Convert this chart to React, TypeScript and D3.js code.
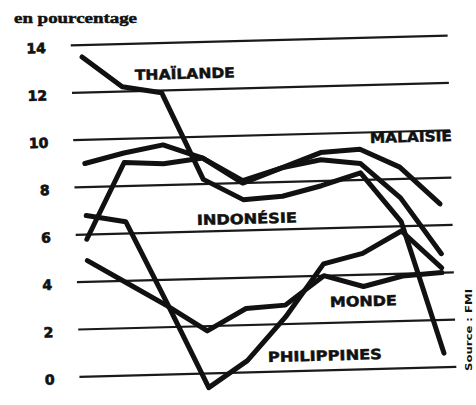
import React, { useEffect, useRef } from 'react'
import * as d3 from 'd3'

// growth of GDP
const years = ['1988', '1989', '1990', '1991', '1992', '1993', '1994', '1995', '1996', '1997']
const thailande = [13.5, 12.2, 11.9, 8.2, 7.3, 7.4, 7.8, 8.3, 6.2, 0.6]
const malaisie = [9.0, 9.4, 9.7, 9.1, 8.1, 8.6, 9.2, 9.3, 8.5, 6.9]
const indonesie = [5.8, 9.0, 8.9, 9.1, 8.0, 8.6, 8.9, 8.7, 7.2, 4.8]
const philippines = [6.8, 6.5, 3.0, -0.6, 0.5, 2.3, 4.5, 4.9, 5.8, 4.2]
const monde = [4.9, 3.9, 2.9, 1.8, 2.7, 2.8, 4.0, 3.5, 3.9, 4.0]
const yTicks = [0, 2, 4, 6, 8, 10, 12, 14]

const seriesList = [thailande, malaisie, indonesie, philippines, monde]

// label placement (screen coords of baseline start) and widths
const labels = [
  { text: 'THAÏLANDE', x: 135, y: 80, w: 100 },
  { text: 'MALAISIE', x: 370, y: 143, w: 82 },
  { text: 'INDONÉSIE', x: 197, y: 225, w: 100 },
  { text: 'MONDE', x: 330, y: 307, w: 67 },
  { text: 'PHILIPPINES', x: 268, y: 362, w: 114 },
]

const W = 476
const H = 405
const tilt = -1.5

export default function App() {
  const ref = useRef<SVGSVGElement>(null)

  useEffect(() => {
    draw()
  }, [])

  const draw = () => {
    const svg = d3.select(ref.current)
    svg.selectAll('*').remove()

    const x = d3.scalePoint().domain(years).range([86, 440])
    const y = d3.scaleLinear().domain([0, 14]).range([372, 40.5])

    svg.append('rect').attr('width', W).attr('height', H).attr('fill', '#fff')

    svg
      .append('text')
      .attr('x', 14)
      .attr('y', 23)
      .attr('font-family', '"Liberation Serif", serif')
      .attr('font-weight', 'bold')
      .attr('font-size', 15)
      .attr('textLength', 123)
      .attr('lengthAdjust', 'spacingAndGlyphs')
      .attr('fill', '#111')
      .attr('stroke', '#111')
      .attr('stroke-width', 0.5)
      .text('en pourcentage')

    // the scan is slightly rotated
    const g = svg.append('g').attr('transform', `rotate(${tilt}, 262, 205)`)

    g.append('g')
      .selectAll('line')
      .data(yTicks)
      .join('line')
      .attr('x1', 75)
      .attr('x2', 452)
      .attr('y1', (d) => y(d))
      .attr('y2', (d) => y(d))
      .attr('stroke', '#1a1a1a')
      .attr('stroke-width', 2.2)

    g.append('g')
      .selectAll('text')
      .data(yTicks)
      .join('text')
      .attr('x', 50)
      .attr('y', (d) => y(d) + 7)
      .attr('text-anchor', 'end')
      .attr('font-family', '"DejaVu Sans", sans-serif')
      .attr('font-weight', 'bold')
      .attr('font-size', 14)
      .attr('fill', '#111')
      .attr('stroke', '#111')
      .attr('stroke-width', 0.7)
      .text((d) => d)

    const line = d3
      .line<number>()
      .x((d, i) => x(years[i]))
      .y((d) => y(d))

    g.append('g')
      .selectAll('path')
      .data(seriesList)
      .join('path')
      .attr('d', (d) => line(d))
      .attr('fill', 'none')
      .attr('stroke', '#111')
      .attr('stroke-width', 5)
      .attr('stroke-linejoin', 'round')
      .attr('stroke-linecap', 'round')

    svg
      .append('g')
      .selectAll('text')
      .data(labels)
      .join('text')
      .attr('x', (d) => d.x)
      .attr('y', (d) => d.y)
      .attr('transform', (d) => `rotate(${tilt}, ${d.x}, ${d.y})`)
      .attr('font-family', '"DejaVu Sans", sans-serif')
      .attr('font-weight', 'bold')
      .attr('font-size', 14)
      .attr('textLength', (d) => d.w)
      .attr('lengthAdjust', 'spacingAndGlyphs')
      .attr('fill', '#111')
      .attr('stroke', '#111')
      .attr('stroke-width', 0.5)
      .text((d) => d.text)

    svg
      .append('text')
      .attr('transform', 'translate(472, 371) rotate(-90)')
      .attr('font-family', '"DejaVu Sans", sans-serif')
      .attr('font-weight', 'bold')
      .attr('font-size', 9)
      .attr('textLength', 82)
      .attr('lengthAdjust', 'spacingAndGlyphs')
      .attr('fill', '#111')
      .text('Source : FMI')
  }

  return (
    <svg
      ref={ref}
      width={W}
      height={H}
      style={{ position: 'absolute', left: 0, top: 0, display: 'block' }}
    ></svg>
  )
}
